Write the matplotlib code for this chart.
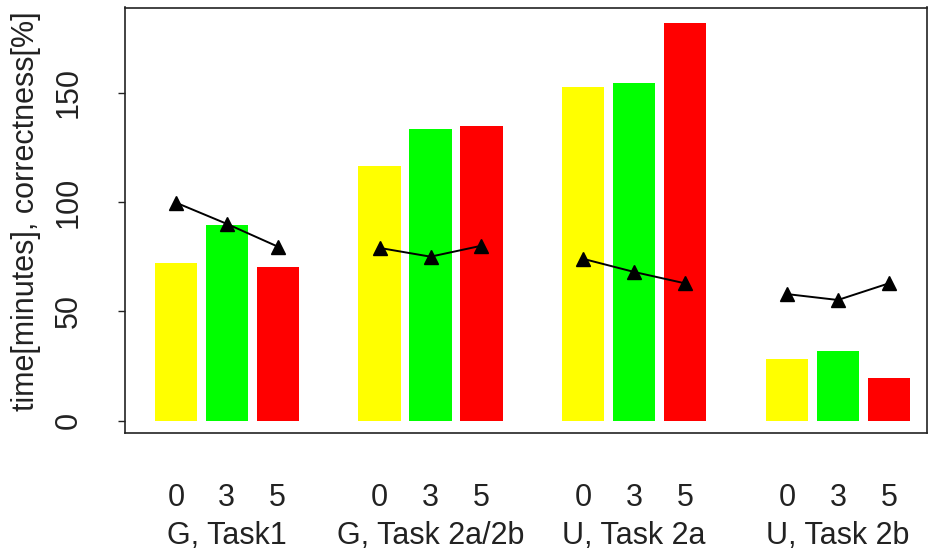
import matplotlib
matplotlib.use("Agg")
import matplotlib.pyplot as plt
import matplotlib.transforms as mtransforms
import numpy as np

plt.rcParams['font.family'] = ['Liberation Sans', 'DejaVu Sans']

groups = ["G, Task1", "G, Task 2a/2b", "U, Task 2a", "U, Task 2b"]
levels = ["0", "3", "5"]
time_minutes = [
    [72.0, 89.5, 70.4],
    [116.6, 133.2, 134.9],
    [152.4, 154.3, 182.0],
    [28.1, 31.9, 19.7],
]
correctness = [
    [99.7, 90.0, 79.6],
    [79.0, 75.0, 80.0],
    [74.0, 68.0, 62.8],
    [57.9, 55.2, 62.8],
]
bar_colors = ["#FFFF00", "#00FF00", "#FF0000"]
y_ticks = [0, 50, 100, 150]

W, H = 929, 550
fig = plt.figure(figsize=(W / 100, H / 100), dpi=100)
ax_left, ax_right, ax_top, ax_bottom = 125, 927, 7.5, 433
ax = fig.add_axes([ax_left / W, 1 - ax_bottom / H,
                   (ax_right - ax_left) / W, (ax_bottom - ax_top) / H])

fs = 22
pos_all = []
lab_all = []
for g, (vals, corr) in enumerate(zip(time_minutes, correctness)):
    pos = np.arange(3) + 4 * g
    ax.bar(pos, vals, width=0.833, color=bar_colors, edgecolor='none')
    ax.plot(pos, corr, color='black', lw=1.4, marker='^', ms=10,
            markeredgecolor='black', markerfacecolor='black')
    pos_all.extend(pos)
    lab_all.extend(levels)

trans = mtransforms.blended_transform_factory(ax.transData, ax.transAxes)
for p, l in zip(pos_all, lab_all):
    ax.text(p, -0.1716, l, transform=trans, ha='center', va='baseline',
            fontsize=fs, color='#222222')
for g, name in enumerate(groups):
    ax.text(4 * g + 1, -0.2609, name, transform=trans, ha='center',
            va='baseline', fontsize=fs, color='#222222')

ax.set_xticks([])
ax.set_xlim(-1.0, 14.75)
ax.set_ylim(-5.6, 188.9)
ax.set_yticks(y_ticks)
ax.set_yticklabels([str(t) for t in y_ticks], rotation=90, va='center',
                   fontsize=fs, color='#222222')
ax.tick_params(axis='y', length=5, width=1.0, pad=25, color='#222222')

for s in ax.spines.values():
    s.set_linewidth(1.2)
    s.set_color('#222222')

fig.text(26 / W, 1 - 211 / H, "time[minutes], correctness[%]", rotation=90,
         ha='center', va='center', fontsize=fs, color='#222222')

fig.savefig("out.png", dpi=100)
